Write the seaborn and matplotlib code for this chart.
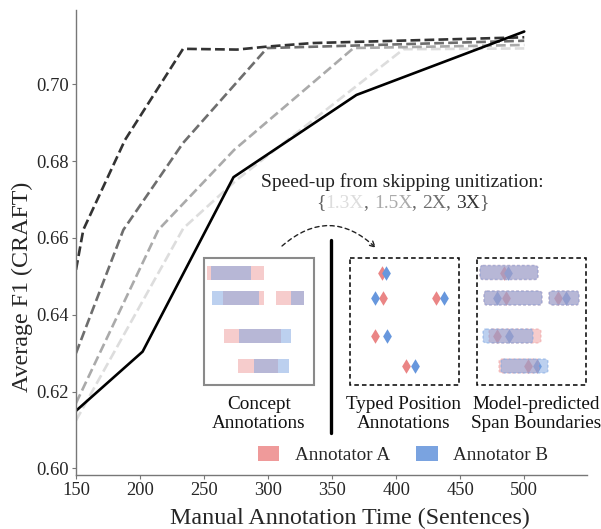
import numpy as np
import pandas as pd
import seaborn as sns
import matplotlib.pyplot as plt
from matplotlib.patches import Rectangle, FancyBboxPatch, Patch

# --- datos de las curvas (tiempo de anotacion vs F1 promedio) ---
time_base = [150, 202, 273, 369, 500]
f1_base = [0.6150, 0.6304, 0.6758, 0.6972, 0.7137]

time_13x = [150, 233.8, 275.5, 405.7, 500]
f1_13x = [0.6125, 0.6625, 0.6751, 0.7091, 0.7093]

time_15x = [150, 214.3, 273.5, 366.7, 500]
f1_15x = [0.6170, 0.6621, 0.6829, 0.7094, 0.7102]

time_2x = [150, 187, 233.6, 299.2, 500]
f1_2x = [0.6300, 0.6621, 0.6847, 0.7094, 0.7113]

time_3x = [150, 155.7, 188.3, 233.6, 275.8, 300, 335, 500]
f1_3x = [0.6517, 0.6621, 0.6855, 0.7092, 0.7090, 0.7098, 0.7107, 0.7122]

speedups = ["1.3X", "1.5X", "2X", "3X"]
speed_colors = ["#dddddd", "#aaaaaa", "#6e6e6e", "#333333"]
x_ticks = [150, 200, 250, 300, 350, 400, 450, 500]
y_ticks = [0.60, 0.62, 0.64, 0.66, 0.68, 0.70]

# --- esquema del recuadro (coordenadas en pixeles de la figura) ---
row_y = [272.5, 298, 336, 366]
concept_a = [(207, 264, 0), (223, 264, 1), (276, 304, 1), (224, 281, 2), (238, 278, 3)]
concept_b = [(211, 251, 0), (212, 259, 1), (291, 304, 1), (239, 291, 2), (254, 289, 3)]
typed_a = [(382, 0), (383, 1), (436, 1), (375, 2), (406, 3)]
typed_b = [(386, 0), (375, 1), (444, 1), (387, 2), (415, 3)]
model_a = [(480, 538, 0), (484, 542, 1), (549, 579, 1), (489, 541, 2), (499, 539, 3)]
model_b = [(480, 538, 0), (484, 542, 1), (549, 579, 1), (483, 533, 2), (501, 548, 3)]
model_dia_a = [(504, 0), (506, 1), (558, 1), (497, 2), (528, 3)]
model_dia_b = [(508, 0), (497, 1), (566, 1), (509, 2), (537, 3)]

RED = "#ef9a9a"
BLUE = "#7aa3e0"
RED_D = "#ea8585"
BLUE_D = "#6797dd"

sns.set_style("ticks")
plt.rcParams["font.family"] = ["Liberation Serif", "DejaVu Serif"]

fig = plt.figure(figsize=(6.01, 5.29), dpi=100)
ax = fig.add_axes([76 / 601, 1 - 475 / 529, 511 / 601, 465 / 529])

series = [(time_13x, f1_13x), (time_15x, f1_15x), (time_2x, f1_2x), (time_3x, f1_3x)]
for (t, f), name, col in zip(series, speedups, speed_colors):
    df = pd.DataFrame({"time": t, "f1": f})
    sns.lineplot(data=df, x="time", y="f1", ax=ax, color=col, lw=1.9,
                 linestyle="--", dashes=(3.7, 2.0), legend=False)
df_base = pd.DataFrame({"time": time_base, "f1": f1_base})
sns.lineplot(data=df_base, x="time", y="f1", ax=ax, color="black", lw=1.9, legend=False)

ax.set_xlim(150, 549)
ax.set_ylim(0.5983, 0.7193)
ax.set_xticks(x_ticks)
ax.set_yticks(y_ticks)
ax.set_yticklabels([f"{v:.2f}" for v in y_ticks])
ax.tick_params(labelsize=13.3, length=3, color="#777777", pad=2)
for s in ["top", "right"]:
    ax.spines[s].set_visible(False)
for s in ["left", "bottom"]:
    ax.spines[s].set_color("#777777")
    ax.spines[s].set_linewidth(1.0)
ax.set_xlabel("Manual Annotation Time (Sentences)", fontsize=17.3)
ax.set_ylabel("Average F1 (CRAFT)", fontsize=17.3)
ax.xaxis.set_label_coords(0.536, -0.071)
ax.yaxis.set_label_coords(-0.085, 0.405)

# --- capa superpuesta para el diagrama ---
ov = fig.add_axes([0, 0, 1, 1])
ov.set_xlim(0, 601)
ov.set_ylim(529, 0)
ov.axis("off")

bh = 14
for x0, x1, r in concept_a:
    ov.add_patch(Rectangle((x0, row_y[r] - bh / 2), x1 - x0, bh, fc=RED, alpha=0.5, lw=0))
for x0, x1, r in concept_b:
    ov.add_patch(Rectangle((x0, row_y[r] - bh / 2), x1 - x0, bh, fc=BLUE, alpha=0.5, lw=0))
ov.add_patch(Rectangle((204, 258), 110, 127, fill=False, ec="#8a8a8a", lw=1.5))

ov.add_patch(Rectangle((350, 258), 109, 127, fill=False, ec="black", lw=1.1, ls=(0, (3, 2))))
ov.scatter([p[0] for p in typed_a], [row_y[p[1]] for p in typed_a], marker="d", s=55, c=RED_D, lw=0)
ov.scatter([p[0] for p in typed_b], [row_y[p[1]] for p in typed_b], marker="d", s=55, c=BLUE_D, lw=0)

ov.add_patch(Rectangle((477, 258), 109, 127, fill=False, ec="black", lw=1.1, ls=(0, (3, 2))))
ov.scatter([p[0] for p in model_dia_a], [row_y[p[1]] for p in model_dia_a], marker="d", s=55, c=RED_D, lw=0)
ov.scatter([p[0] for p in model_dia_b], [row_y[p[1]] for p in model_dia_b], marker="d", s=55, c=BLUE_D, lw=0)
for spans, col in [(model_a, RED), (model_b, BLUE)]:
    for x0, x1, r in spans:
        ov.add_patch(FancyBboxPatch((x0, row_y[r] - bh / 2), x1 - x0, bh,
                                    boxstyle="round,pad=0,rounding_size=3",
                                    fc=col, alpha=0.5, ec=col, lw=1.0, ls=(0, (2, 1.5))))

ov.plot([331, 331], [240, 433], color="black", lw=2.4)

txt_kw = dict(ha="center", va="center", fontsize=13.8, linespacing=1.1, color="#111111")
ov.text(259, 414, "Concept\nAnnotations", **txt_kw)
ov.text(404, 414, "Typed Position\nAnnotations", **txt_kw)
ov.text(536, 414, "Model-predicted\nSpan Boundaries", **txt_kw)

ov.text(402, 182, "Speed-up from skipping unitization:", ha="center", va="center",
        fontsize=14, color="#222222")
parts = [("{", "#666666")]
for i, (name, col) in enumerate(zip(speedups, speed_colors)):
    parts.append((name, col))
    parts.append((", " if i < len(speedups) - 1 else "}", "#666666"))
prev = ov.text(316, 203, parts[0][0], ha="left", va="center", fontsize=14, color=parts[0][1])
for s, col in parts[1:]:
    prev = ov.annotate(s, xy=(1, 0), xycoords=prev, ha="left", va="bottom",
                       fontsize=14, color=col)

ov.annotate("", xy=(376, 248), xytext=(282, 246),
            arrowprops=dict(arrowstyle="->", color="#222222", lw=1.0, ls=(0, (3, 2.5)),
                            connectionstyle="arc3,rad=-0.45", shrinkA=0, shrinkB=0))

handles = [Patch(fc=RED, ec="none", label="Annotator A"),
           Patch(fc=BLUE, ec="none", label="Annotator B")]
fig.legend(handles=handles, loc="center", bbox_to_anchor=(403 / 601, 1 - 455 / 529),
           ncol=2, frameon=False, fontsize=13.8, handlelength=1.1, handleheight=0.85,
           columnspacing=1.4, handletextpad=0.8)

fig.savefig("out.png", dpi=100)
